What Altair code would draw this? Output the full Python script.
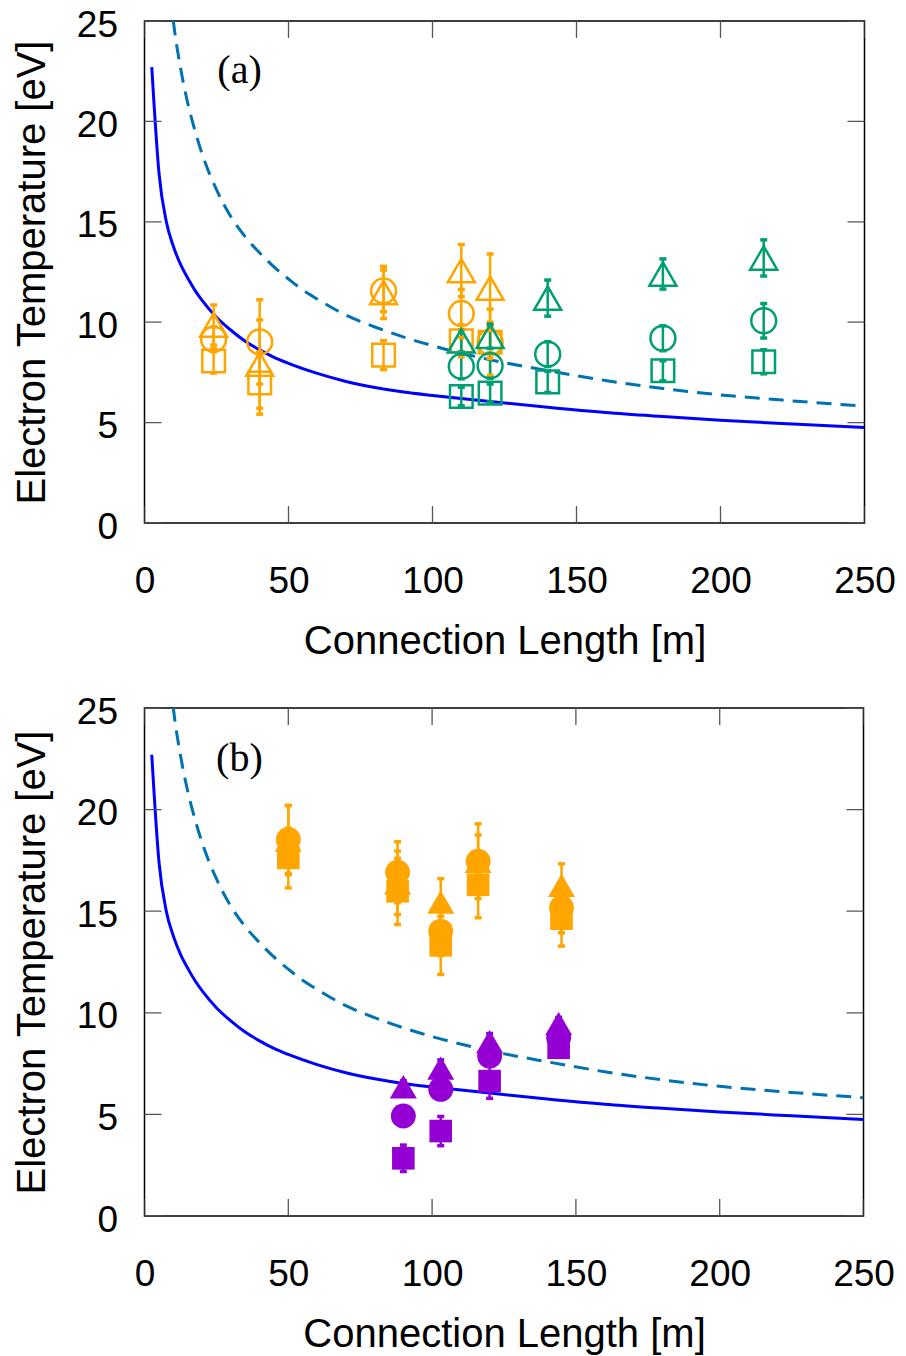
import altair as alt
import pandas as pd

# ---------------- axes ----------------
X_TICKS = [0, 50, 100, 150, 200, 250]
Y_TICKS = [0, 5, 10, 15, 20, 25]

# ---------------- model curves ----------------
solid_x = [2.525, 5.05, 7.58, 10.1, 12.6, 15.2, 17.7, 20.2, 25, 30, 35, 40, 45, 50,
           60, 70, 80, 90, 100, 120, 140, 160, 180, 200, 225, 250]
solid_t = [22.7, 17.4, 15.0, 13.75, 12.85, 12.15, 11.55, 11.05, 10.25, 9.6, 9.05, 8.62, 8.25, 7.95,
           7.45, 7.05, 6.75, 6.52, 6.35, 6.05, 5.76, 5.5, 5.3, 5.12, 4.93, 4.75]
dash_x = [7.58, 10.1, 12.6, 15.2, 17.7, 20.2, 25, 30, 35, 40, 46, 50, 55, 60, 67, 70,
          80, 90, 100, 120, 140, 160, 180, 200, 225, 250]
dash_t = [28.6, 24.9, 22.6, 20.8, 19.45, 18.3, 16.6, 15.25, 14.25, 13.45, 12.62, 12.15, 11.6,
          11.15, 10.57, 10.35, 9.76, 9.26, 8.83, 8.13, 7.59, 7.1, 6.7, 6.38, 6.08, 5.82]

# ---------------- panel (a): open symbols ----------------
a_or_x = [24, 40, 83, 110, 120]
a_or_tri = [9.86, 7.91, 11.48, 12.57, 11.7]
a_or_tri_err = [1.0, 2.2, 1.3, 1.3, 1.7]
a_or_circ = [9.15, 9.02, 11.56, 10.43, 9.0]
a_or_circ_err = [0.62, 2.1, 1.04, 1.2, 1.65]
a_or_sq = [8.07, 6.97, 8.36, 9.07, 9.0]
a_or_sq_err = [0.6, 1.55, 0.72, 0.8, 0.8]

a_gr_x = [110, 120, 140, 180, 215]
a_gr_tri = [9.07, 9.3, 11.2, 12.4, 13.2]
a_gr_tri_err = [0.55, 0.6, 0.9, 0.75, 0.9]
a_gr_circ = [7.8, 7.83, 8.41, 9.2, 10.07]
a_gr_circ_err = [0.62, 0.62, 0.62, 0.62, 0.86]
a_gr_sq = [6.3, 6.47, 7.03, 7.58, 8.03]
a_gr_sq_err = [0.46, 0.45, 0.53, 0.5, 0.6]

# ---------------- panel (b): filled symbols ----------------
b_or_x = [50, 88, 103, 116, 145]
b_or_tri = [18.5, 16.4, 15.45, 17.45, 16.27]
b_or_tri_err = [1.7, 1.56, 1.15, 1.3, 1.06]
b_or_circ = [18.53, 16.92, 14.02, 17.46, 15.17]
b_or_circ_err = [1.67, 1.5, 1.2, 1.84, 1.23]
b_or_sq = [17.62, 15.98, 13.32, 16.3, 14.63]
b_or_sq_err = [1.47, 1.63, 1.43, 1.62, 1.35]

b_pu_x = [90, 103, 120, 144]
b_pu_tri = [6.36, 7.28, 8.58, 9.47]
b_pu_tri_err = [0.3, 0.4, 0.4, 0.3]
b_pu_circ = [4.92, 6.23, 7.87, 8.77]
b_pu_circ_err = [0.3, 0.4, 0.4, 0.3]
b_pu_sq = [2.84, 4.18, 6.64, 8.28]
b_pu_sq_err = [0.65, 0.72, 0.85, 0.4]

GROUPS = ["orange", "green", "purple"]
GROUP_COLORS = ["#FFA500", "#009E73", "#9400D3"]
SHAPES = ["tri", "circ", "sq"]
SHAPE_MARKS = ["triangle-up", "circle", "square"]

FONT = "Liberation Sans"


def rows(xs, vals, errs, shape, grp):
    return [dict(x=x, t=v, lo=v - e, hi=v + e, shape=shape, grp=grp)
            for x, v, e in zip(xs, vals, errs)]


df_a = pd.DataFrame(
    rows(a_or_x, a_or_tri, a_or_tri_err, "tri", "orange")
    + rows(a_or_x, a_or_circ, a_or_circ_err, "circ", "orange")
    + rows(a_or_x, a_or_sq, a_or_sq_err, "sq", "orange")
    + rows(a_gr_x, a_gr_tri, a_gr_tri_err, "tri", "green")
    + rows(a_gr_x, a_gr_circ, a_gr_circ_err, "circ", "green")
    + rows(a_gr_x, a_gr_sq, a_gr_sq_err, "sq", "green")
)
df_b = pd.DataFrame(
    rows(b_or_x, b_or_tri, b_or_tri_err, "tri", "orange")
    + rows(b_or_x, b_or_circ, b_or_circ_err, "circ", "orange")
    + rows(b_or_x, b_or_sq, b_or_sq_err, "sq", "orange")
    + rows(b_pu_x, b_pu_tri, b_pu_tri_err, "tri", "purple")
    + rows(b_pu_x, b_pu_circ, b_pu_circ_err, "circ", "purple")
    + rows(b_pu_x, b_pu_sq, b_pu_sq_err, "sq", "purple")
)
df_solid = pd.DataFrame({"x": solid_x, "t": solid_t})
df_dash = pd.DataFrame({"x": dash_x, "t": dash_t})
df_xt = pd.DataFrame({"x": X_TICKS})
df_yt = pd.DataFrame({"t": Y_TICKS})

XSCALE = alt.Scale(domain=[0, 250], nice=False, zero=False)
YSCALE = alt.Scale(domain=[0, 25], nice=False, zero=False)
COLOR = alt.Color("grp:N", scale=alt.Scale(domain=GROUPS, range=GROUP_COLORS), legend=None)


def make_panel(df, label, filled, sizes, w, h, ytitle_pad):
    x_axis = alt.Axis(values=X_TICKS, ticks=False, domain=False, grid=False,
                      labelFontSize=37, labelFont=FONT, labelColor="black",
                      labelPadding=40, labelFlush=False, labelAngle=0, format="d",
                      title="Connection Length [m]", titleFont=FONT, titleFontSize=40,
                      titleFontWeight="normal", titleColor="black", titlePadding=22)
    y_axis = alt.Axis(values=Y_TICKS, ticks=False, domain=False, grid=False,
                      labelFontSize=37, labelFont=FONT, labelColor="black",
                      labelPadding=27, labelOffset=4, labelFlush=False, format="d",
                      title="Electron Temperature [eV]", titleFont=FONT, titleFontSize=40,
                      titleFontWeight="normal", titleColor="black", titlePadding=ytitle_pad)
    X = alt.X("x:Q", scale=XSCALE, axis=x_axis)
    Y = alt.Y("t:Q", scale=YSCALE, axis=y_axis)

    solid = alt.Chart(df_solid).mark_line(color="#0000FF", strokeWidth=3, clip=True,
                                          interpolate="monotone").encode(x=X, y=Y)
    dash = alt.Chart(df_dash).mark_line(color="#0072B2", strokeWidth=3, strokeDash=[15, 9],
                                        clip=True, interpolate="monotone").encode(x=X, y=Y)

    tick_style = dict(color="#555555", thickness=1.3, size=34, clip=True, opacity=1)
    xt_bot = alt.Chart(df_xt).mark_tick(orient="vertical", **tick_style).encode(x=X, y=alt.datum(0))
    xt_top = alt.Chart(df_xt).mark_tick(orient="vertical", **tick_style).encode(x=X, y=alt.datum(25))
    yt_left = alt.Chart(df_yt).mark_tick(orient="horizontal", **tick_style).encode(y=Y, x=alt.datum(0))
    yt_right = alt.Chart(df_yt).mark_tick(orient="horizontal", **tick_style).encode(y=Y, x=alt.datum(250))

    base = alt.Chart(df)
    err = base.mark_rule(strokeWidth=2.5).encode(x=X, y=alt.Y("lo:Q", scale=YSCALE), y2="hi:Q", color=COLOR)
    cap_lo = base.mark_tick(orient="horizontal", size=7, thickness=3.5, opacity=1).encode(
        x=X, y=alt.Y("lo:Q", scale=YSCALE), color=COLOR)
    cap_hi = base.mark_tick(orient="horizontal", size=7, thickness=3.5, opacity=1).encode(
        x=X, y=alt.Y("hi:Q", scale=YSCALE), color=COLOR)
    pts = base.mark_point(filled=filled, strokeWidth=(0 if filled else 2.5), opacity=1).encode(
        x=X, y=Y, color=COLOR,
        shape=alt.Shape("shape:N", scale=alt.Scale(domain=SHAPES, range=SHAPE_MARKS), legend=None),
        size=alt.Size("shape:N", scale=alt.Scale(domain=SHAPES, range=sizes), legend=None),
    )

    lab = alt.Chart(pd.DataFrame({"x": [33], "t": [22.5], "txt": [label]})).mark_text(
        font="Liberation Serif", fontSize=40, color="black", align="center", baseline="middle"
    ).encode(x=X, y=Y, text="txt:N")

    return alt.layer(solid, dash, xt_bot, xt_top, yt_left, yt_right, err, cap_lo, cap_hi, pts, lab
                     ).properties(width=w, height=h)


panel_a = make_panel(df_a, "(a)", False, [729, 511, 306], 720, 502, 24)
panel_b = make_panel(df_b, "(b)", True, [961, 647, 471], 719, 508, 24)

chart = alt.concat(panel_a, panel_b, columns=1, spacing=30, align="none").properties(
    padding={"left": 11.5, "top": 5, "right": 5, "bottom": 3}
).configure_view(stroke="black", strokeWidth=1.5)

chart.save("out.html", embed_options={"renderer": "svg", "actions": False})
